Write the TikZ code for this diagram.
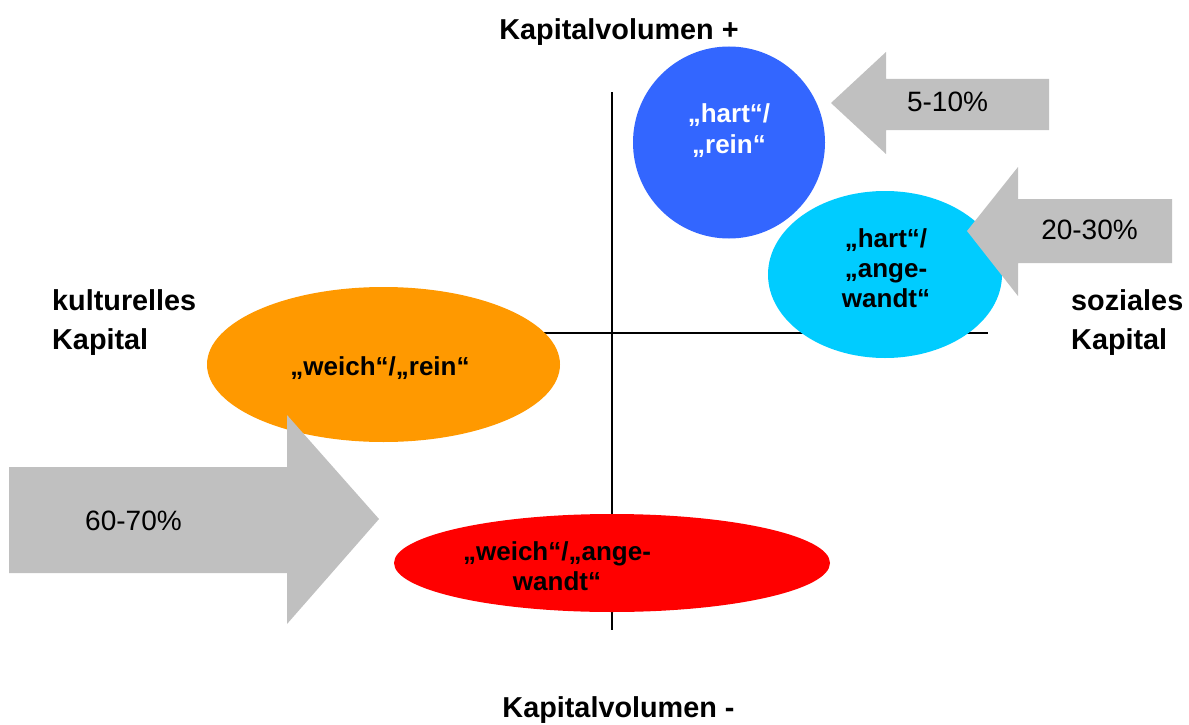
\documentclass[tikz,border=0pt]{standalone}
\usepackage{fontspec}
\setmainfont{Liberation Sans}
\usetikzlibrary{shapes.geometric}
\definecolor{cblue}{HTML}{3366FF}
\definecolor{ccyan}{HTML}{00CCFF}
\definecolor{corange}{HTML}{FF9900}
\definecolor{cred}{HTML}{FF0000}
\definecolor{cgray}{HTML}{C0C0C0}
\begin{document}
\begin{tikzpicture}[x=1pt,y=-1pt,
  axis/.style={draw=black,line width=1.6pt},
  blob/.style={ellipse,inner sep=0pt,draw=none},
  bigarrow/.style={fill=cgray,draw=none},
  label/.style={anchor=base,inner sep=0pt,font=\fontsize{28.8}{34}\selectfont\bfseries},
  blobtext/.style={anchor=base,inner sep=0pt,font=\fontsize{26}{30}\selectfont\bfseries},
  pct/.style={anchor=base,inner sep=0pt,font=\fontsize{28}{34}\selectfont}]
\fill[white] (0,0) rectangle (1189,725);
\useasboundingbox (0,0) rectangle (1189,725);
% axes
\coordinate (vtop) at (612,92);
\coordinate (vbot) at (612,630);
\coordinate (hleft) at (520,333);
\coordinate (hright) at (988,333);
\draw[axis] (vtop) -- (vbot);
\draw[axis] (hleft) -- (hright);
% blobs
\node[blob,fill=corange,minimum width=353pt,minimum height=155pt] (orange) at (383.5,364.5) {};
\node[blob,fill=cred,minimum width=436pt,minimum height=98pt] (red) at (612,563) {};
\node[circle,inner sep=0pt,fill=cblue,minimum size=192pt] (blue) at (729,142.5) {};
\node[blob,fill=ccyan,minimum width=234pt,minimum height=167pt] (cyan) at (885,274.5) {};
% arrows
\fill[bigarrow] (1049,79) -- (886,79) -- (886,52) -- (831,103) -- (886,154) -- (886,130) -- (1049,130) -- cycle;
\fill[bigarrow] (1172,199) -- (1018,199) -- (1018,167) -- (967,231) -- (1018,296) -- (1018,263) -- (1172,263) -- cycle;
\fill[bigarrow] (9,467) -- (287,467) -- (287,415) -- (379,519) -- (287,624) -- (287,573) -- (9,573) -- cycle;
% axis labels
\node[label] (ktop) at (619,40) {Kapitalvolumen +};
\node[label] (kbot) at (618.5,717) {Kapitalvolumen -};
\node[label,anchor=base west] (kult1) at (52,310.5) {kulturelles};
\node[label,anchor=base west] (kult2) at (52,349) {Kapital};
\node[label,anchor=base west] (soz1) at (1071,310.5) {soziales};
\node[label,anchor=base west] (soz2) at (1071,349) {Kapital};
% blob texts
\node[blobtext,text=white] (bt1) at (729,122) {„hart“/};
\node[blobtext,text=white] (bt2) at (729,153) {„rein“};
\node[blobtext] (ct1) at (886,247) {„hart“/};
\node[blobtext] (ct2) at (886,277) {„ange-};
\node[blobtext] (ct3) at (886,307) {wandt“};
\node[blobtext] (ot1) at (380,375) {„weich“/„rein“};
\node[blobtext] (rt1) at (557,560) {„weich“/„ange-};
\node[blobtext] (rt2) at (557,590) {wandt“};
% percentages
\node[pct] (p1) at (947.5,111) {5-10\%};
\node[pct] (p2) at (1089.5,239) {20-30\%};
\node[pct] (p3) at (133.5,530) {60-70\%};
\end{tikzpicture}
\end{document}
